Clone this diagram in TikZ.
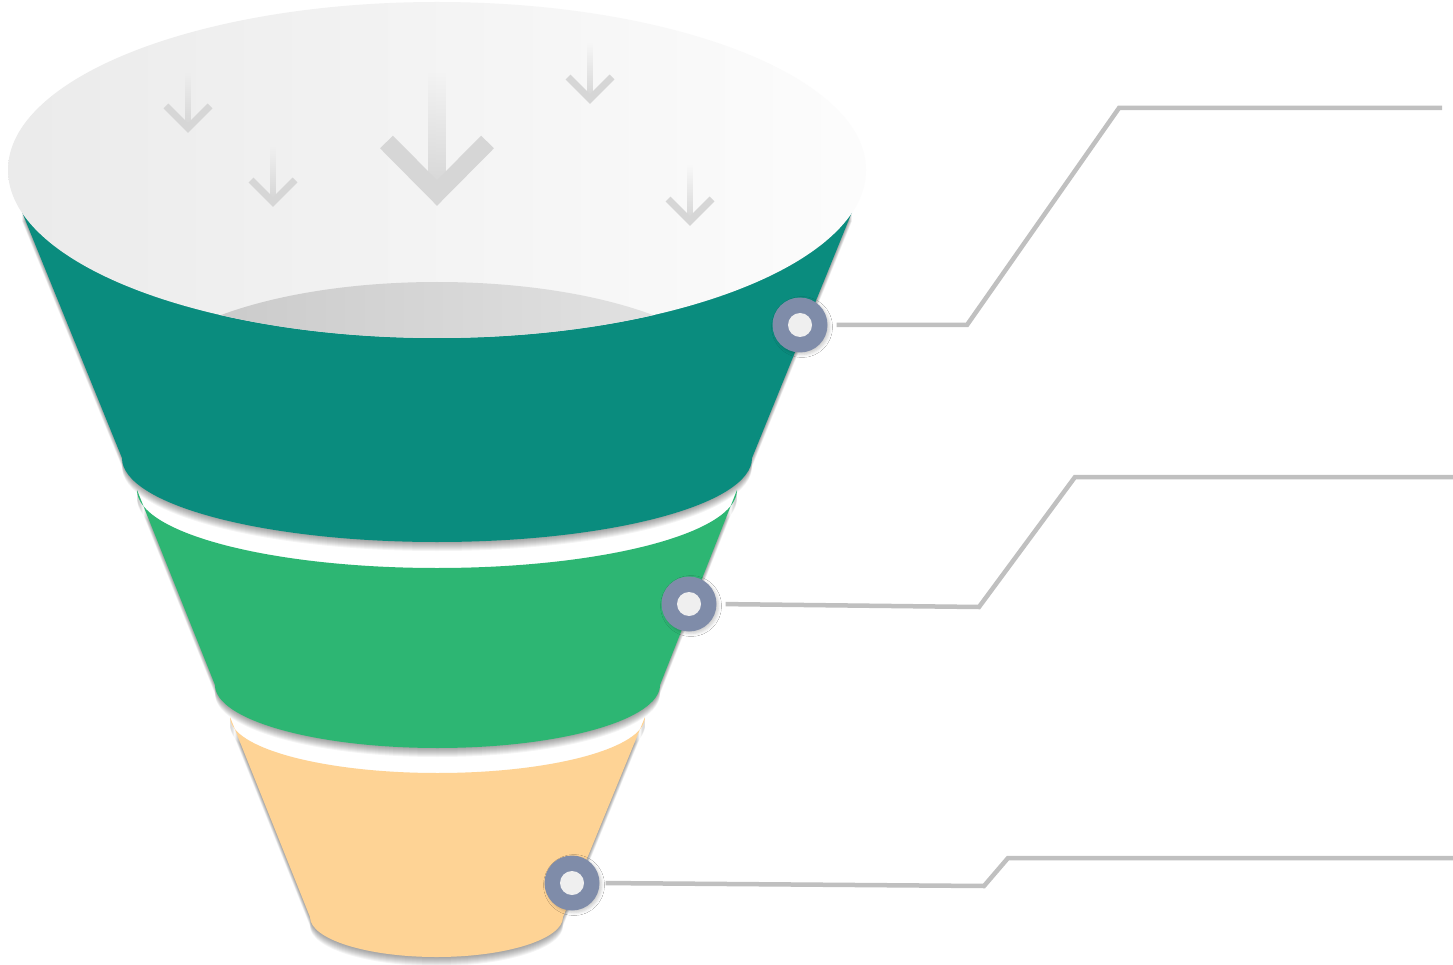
\documentclass[tikz,border=0pt]{standalone}
\usetikzlibrary{shadows.blur,fadings}
\definecolor{segteal}{HTML}{0A8C7E}
\definecolor{seggreen}{HTML}{2DB673}
\definecolor{segorange}{HTML}{FED395}
\definecolor{dotblue}{HTML}{7F8CA9}
\definecolor{dotcore}{HTML}{EFEFEF}
\definecolor{leadgrey}{HTML}{C0C0C0}
\definecolor{arrowgrey}{HTML}{D6D6D6}
\tikzset{
  shadowlayer/.style={fill=black, fill opacity=0.045},
  dotnode/.style={circle, fill=dotblue, minimum size=55pt, inner sep=0pt, blur shadow={shadow xshift=2pt, shadow yshift=-2pt, shadow blur radius=3pt, shadow opacity=20}},
  leader/.style={draw=leadgrey, line width=4.5pt, line join=miter},
  shaftfill/.style={fill=arrowgrey, path fading=north},
  bighead/.style={draw=arrowgrey, line width=18pt, line join=miter, line cap=butt},
  smallhead/.style={draw=arrowgrey, line width=7pt, line join=miter, line cap=butt}
}
\def\orangepath{(230,717) arc[start angle=180, end angle=0, x radius=207.5, y radius=56]
  -- (563,917) arc[start angle=0, end angle=180, x radius=126.5, y radius=40] -- cycle}
\def\greenpath{(137,490) arc[start angle=180, end angle=0, x radius=300, y radius=78]
  -- (660,685) arc[start angle=0, end angle=180, x radius=222.5, y radius=63] -- cycle}
\def\tealpath{(22,212) -- (122,458) arc[start angle=180, end angle=0, x radius=315, y radius=84]
  -- (852,212) -- cycle}
\begin{document}
\begin{tikzpicture}[x=1pt, y=-1pt]
\fill[white] (0,0) rectangle (1453,965);
\useasboundingbox (0,0) rectangle (1453,965);

% soft shadows of the funnel segments (stacked shifted copies), beneath the fills
\foreach \k in {1,...,9} {
  \path[shadowlayer, yshift=-\k pt] \orangepath;
  \path[shadowlayer, yshift=-\k pt] \greenpath;
  \path[shadowlayer, yshift=-\k pt] \tealpath;
}

% funnel segments
\fill[segorange] \orangepath;
\fill[seggreen] \greenpath;
\fill[segteal] \tealpath;

% opening of the funnel
\shade[left color=black!8, right color=black!1] (437,170) ellipse[x radius=429, y radius=168];
\begin{scope}
  \clip (437,170) ellipse[x radius=429, y radius=168];
  \shade[left color=black!22, right color=black!10] (437,390) ellipse[x radius=300, y radius=108];
\end{scope}

% falling arrows
\fill[shaftfill] (428,73) rectangle (446,190);
\draw[bighead] (386.5,142) -- (437,193) -- (487.5,142);

\fill[shaftfill] (185,73) rectangle (191,126);
\draw[smallhead] (166,106) -- (188,128) -- (210,106);

\fill[shaftfill] (270,147) rectangle (276,200);
\draw[smallhead] (251,180) -- (273,202) -- (295,180);

\fill[shaftfill] (587,43) rectangle (593,97);
\draw[smallhead] (568,77) -- (590,99) -- (612,77);

\fill[shaftfill] (687,165) rectangle (693,219);
\draw[smallhead] (668,199) -- (690,221) -- (712,199);

% markers
\node[dotnode] (c1) at (800,325) {};
\node[dotnode] (c2) at (689,604) {};
\node[dotnode] (c3) at (572,883) {};
\fill[dotcore] (c1) circle[radius=12];
\fill[dotcore] (c2) circle[radius=12];
\fill[dotcore] (c3) circle[radius=12];

% leader lines
\coordinate (e1) at (1442,108);
\coordinate (e2) at (1453,477);
\coordinate (e3) at (1453,858);
\draw[leader, shorten <=9pt] (c1.east) -- (967,325) -- (1119,108) -- (e1);
\draw[leader, shorten <=9pt] (c2.east) -- (979,607) -- (1075,477) -- (e2);
\draw[leader, shorten <=6pt] (c3.east) -- (984,886) -- (1008,858) -- (e3);
\end{tikzpicture}
\end{document}
